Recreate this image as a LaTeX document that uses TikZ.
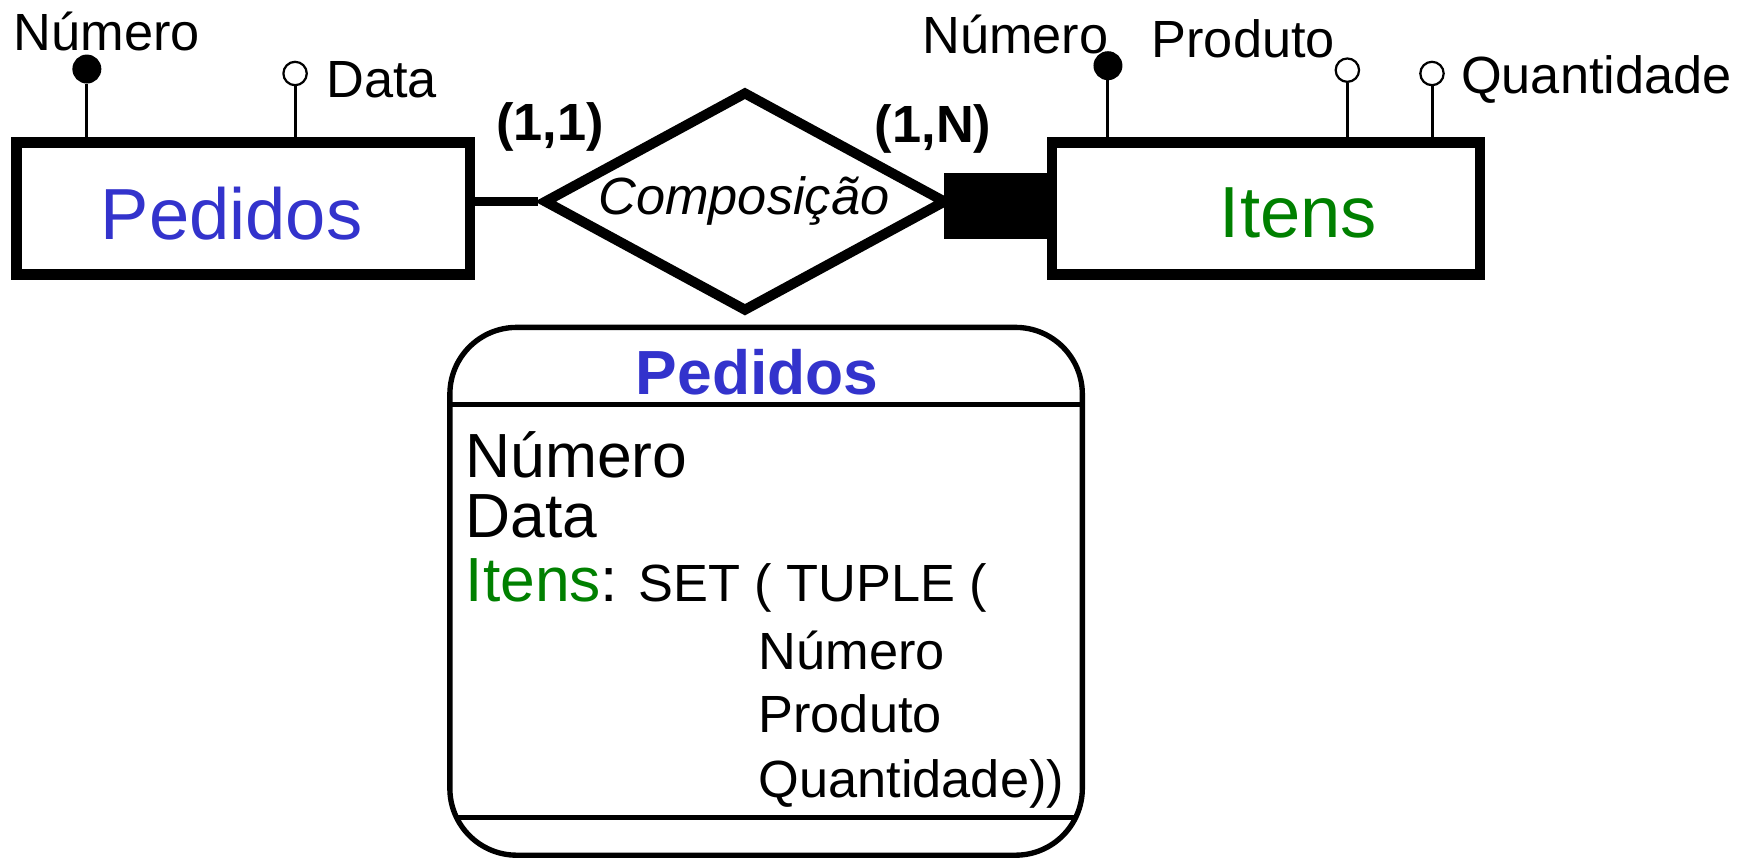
\documentclass[tikz,border=0pt]{standalone}
\usepackage{fontspec}
\setmainfont{Liberation Sans}
\usetikzlibrary{shapes.geometric}
\definecolor{pedblue}{RGB}{51,51,204}
\definecolor{itgreen}{RGB}{0,128,0}
\tikzset{
  entity/.style={draw, line width=9.5pt, inner sep=0pt, minimum width=407.5pt, minimum height=119pt},
  entlbl/.style={inner sep=0pt, anchor=base, font=\fontsize{65}{70}\selectfont},
  attrline/.style={line width=2.7pt},
  keyattr/.style={circle, draw, fill=black, line width=2pt, minimum size=24pt, inner sep=0pt},
  optattr/.style={circle, draw, fill=white, line width=2pt, minimum size=21pt, inner sep=0pt},
  attrlbl/.style={inner sep=0pt, anchor=base west, font=\fontsize{47}{50}\selectfont},
  card/.style={inner sep=0pt, anchor=base, font=\fontsize{47}{50}\selectfont\bfseries},
  reldiam/.style={diamond, draw, line width=9pt, inner sep=0pt, minimum width=362pt, minimum height=198pt},
  boxline/.style={line width=4.8pt},
  bigtxt/.style={inner sep=0pt, anchor=base west, font=\fontsize{56}{60}\selectfont},
  midtxt/.style={inner sep=0pt, anchor=base west, font=\fontsize{47}{50}\selectfont}
}
\begin{document}
\begin{tikzpicture}[x=1pt,y=-1pt]
\useasboundingbox (0,0) rectangle (1568,774);
% Entities
\node[entity] (ped) at (218.5,187.25) {};
\node[entlbl, text=pedblue] (pedlbl) at (208,215.5) {Pedidos};
\node[entity, minimum width=384.5pt] (itn) at (1137,187.25) {};
\node[entlbl, text=itgreen] (itnlbl) at (1166,213) {Itens};
% Relationship
\node[reldiam] (rel) at (669,181) {};
\node[inner sep=0pt, anchor=base, font=\fontsize{47}{50}\selectfont\itshape] (rellbl) at (668,193) {Composição};
\draw[line width=7.5pt] (ped.east |- rel.west) -- (rel.west);
\node[fill=black, inner sep=0pt, minimum width=96pt, minimum height=60pt] (weak) at (896,185) {};
% Cardinalities
\node[card] (c11) at (494,126) {(1,1)};
\node[card] (c1n) at (838,128) {(1,N)};
% Pedidos attributes
\node[keyattr] (pnum) at (78,62) {};
\draw[attrline] (pnum.south) -- (pnum.south |- ped.north);
\node[attrlbl] (pnumlbl) at (12,45) {Número};
\node[optattr] (pdat) at (265,66) {};
\draw[attrline] (pdat.south) -- (pdat.south |- ped.north);
\node[attrlbl] (pdatlbl) at (293,88) {Data};
% Itens attributes
\node[keyattr] (inum) at (995,59) {};
\draw[attrline] (inum.south) -- (inum.south |- itn.north);
\node[attrlbl] (inumlbl) at (828,48) {Número};
\node[optattr] (iprod) at (1210,63) {};
\draw[attrline] (iprod.south) -- (iprod.south |- itn.north);
\node[attrlbl] (iprodlbl) at (1034,52) {Produto};
\node[optattr] (iqtd) at (1286,66) {};
\draw[attrline] (iqtd.south) -- (iqtd.south |- itn.north);
\node[attrlbl] (iqtdlbl) at (1312,84) {Quantidade};
% Object type box
\node[draw, boxline, rounded corners=60pt, inner sep=0pt, minimum width=568pt, minimum height=474pt] (cls) at (688,531) {};
\coordinate (s1l) at (404,363);
\coordinate (s1r) at (972,363);
\coordinate (s2l) at (410,734);
\coordinate (s2r) at (966,734);
\draw[boxline] (s1l) -- (s1r);
\draw[boxline] (s2l) -- (s2r);
\node[inner sep=0pt, anchor=base, text=pedblue, font=\fontsize{56}{60}\selectfont\bfseries] (clsttl) at (680,354) {Pedidos};
\node[bigtxt] (b1) at (418,429) {Número};
\node[bigtxt] (b2) at (418,483) {Data};
\node[bigtxt] (b3) at (418,540) {\textcolor{itgreen}{Itens}:};
\node[midtxt] (b4) at (573,540) {SET ( TUPLE (};
\node[midtxt] (b5) at (681,601.5) {Número};
\node[midtxt] (b6) at (681,657.6) {Produto};
\node[midtxt] (b7) at (681,716) {Quantidade))};
\end{tikzpicture}
\end{document}
